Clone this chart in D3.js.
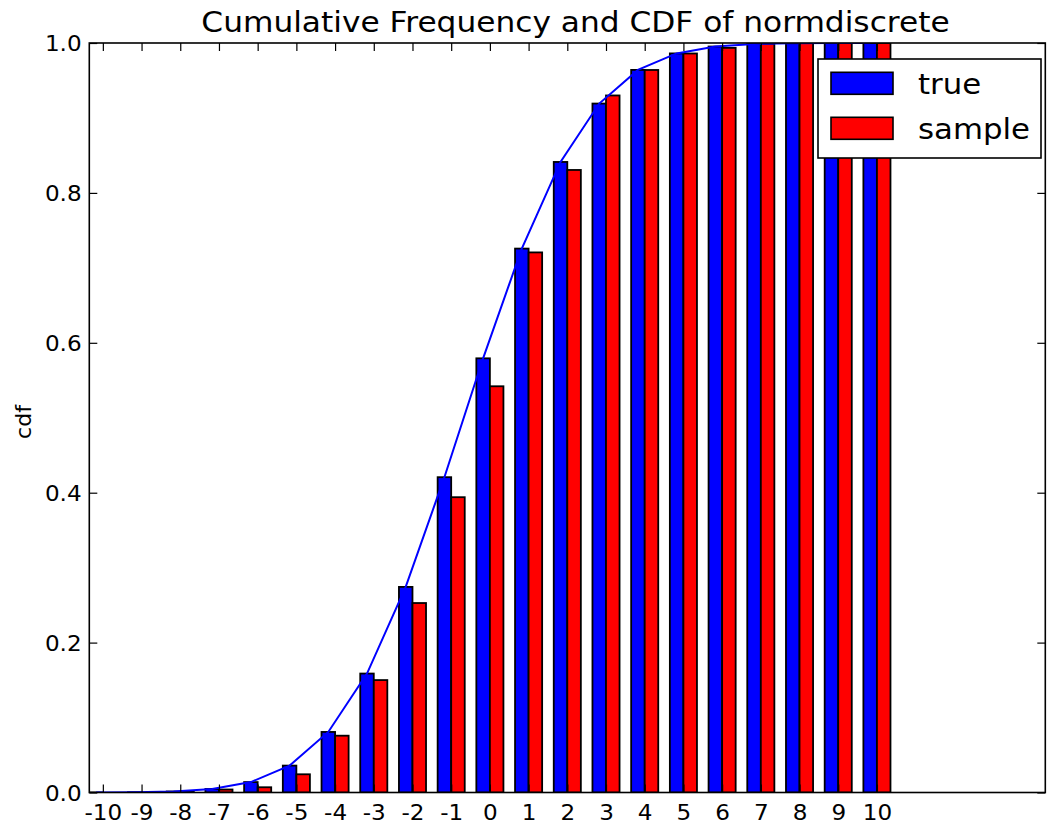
<!DOCTYPE html>
<html>
<head>
<meta charset="utf-8">
<script src="https://cdn.jsdelivr.net/npm/d3@7"></script>
<style>
  html, body { margin: 0; padding: 0; background: #fff; }
  svg { display: block; font-family: "DejaVu Sans", sans-serif; }
</style>
</head>
<body>
<svg id="chart" width="1047" height="825"></svg>
<script>
// ---- data ----
const xk = [-10,-9,-8,-7,-6,-5,-4,-3,-2,-1,0,1,2,3,4,5,6,7,8,9,10];
const trueCdf = [0.00007,0.00034,0.00135,0.0047,0.0139,0.0359,0.0808,0.1587,0.2743,0.4207,
                 0.5793,0.7257,0.8413,0.9192,0.9641,0.9861,0.9953,0.99865,0.99966,0.99993,1.0];
const sampleCdf = [0,0,0.001,0.004,0.007,0.0243,0.0758,0.150,0.2528,0.394,
                   0.542,0.7206,0.8306,0.930,0.964,0.986,0.9935,0.999,1.0,1.0,1.0];
const yTicks = [0,0.2,0.4,0.6,0.8,1.0];
const legendLabels = ["true","sample"];
const seriesColors = ["#0000ff","#ff0000"];
const titleText = "Cumulative Frequency and CDF of normdiscrete";
const yLabel = "cdf";

// ---- layout ----
const L = 89.3, R = 1045.3, T = 43, B = 792.5;
const W = 0.35;      // bar width in data units
const SX = 1.1;      // horizontal text stretch seen in the reference

const svg = d3.select("#chart");
const x = d3.scaleLinear().domain([-10.35, 14.35]).range([L, R]);
const y = d3.scaleLinear().domain([0, 1]).range([B, T]);

svg.append("clipPath").attr("id","clip").append("rect")
  .attr("x", L).attr("y", T).attr("width", R - L).attr("height", B - T);

const plot = svg.append("g").attr("clip-path","url(#clip)");

const rows = xk.map((k,i) => ({k, t: trueCdf[i], s: sampleCdf[i]}));

// blue (true) bars
plot.selectAll("rect.true").data(rows).enter().append("rect")
  .attr("class","true")
  .attr("x", d => x(d.k - W))
  .attr("width", d => x(d.k) - x(d.k - W))
  .attr("y", d => y(d.t))
  .attr("height", d => y(0) - y(d.t))
  .attr("fill", seriesColors[0])
  .attr("stroke", "#000").attr("stroke-width", 1.8);

// red (sample) bars
plot.selectAll("rect.sample").data(rows).enter().append("rect")
  .attr("class","sample")
  .attr("x", d => x(d.k))
  .attr("width", d => x(d.k + W) - x(d.k))
  .attr("y", d => y(d.s))
  .attr("height", d => y(0) - y(d.s))
  .attr("fill", seriesColors[1])
  .attr("stroke", "#000").attr("stroke-width", 1.8);

// cdf line
plot.append("path").datum(rows)
  .attr("fill","none").attr("stroke", seriesColors[0]).attr("stroke-width", 2)
  .attr("d", d3.line().x(d => x(d.k - W/2)).y(d => y(d.t)));

// ---- axes ----
const fontTick = 21;
const xAxisB = svg.append("g").attr("transform", `translate(0,${B})`)
  .call(d3.axisBottom(x).tickValues(xk).tickSize(-8).tickPadding(12.6).tickFormat(d => String(d)));
const xAxisT = svg.append("g").attr("transform", `translate(0,${T})`)
  .call(d3.axisTop(x).tickValues(xk).tickSize(-8).tickFormat(""));
const yAxisL = svg.append("g").attr("transform", `translate(${L},0)`)
  .call(d3.axisLeft(y).tickValues(yTicks).tickSize(-8).tickPadding(7).tickFormat(d => d.toFixed(1)));
const yAxisR = svg.append("g").attr("transform", `translate(${R},0)`)
  .call(d3.axisRight(y).tickValues(yTicks).tickSize(-8).tickFormat(""));

[xAxisB, xAxisT, yAxisL, yAxisR].forEach(g => {
  g.select(".domain").remove();
  g.selectAll(".tick line").attr("stroke","#000").attr("stroke-width",1.2);
  g.selectAll(".tick text")
    .attr("font-family","DejaVu Sans").attr("font-size", fontTick).attr("fill","#000")
    .attr("transform", `scale(${SX},1)`);
});
xAxisB.selectAll(".tick text").attr("dy", null).attr("y", 27.5);
yAxisL.selectAll(".tick text").attr("dy", "0.36em");

// frame
svg.append("rect").attr("x", L).attr("y", T).attr("width", R - L).attr("height", B - T)
  .attr("fill","none").attr("stroke","#000").attr("stroke-width",1.6);

// title
svg.append("text")
  .attr("transform", `translate(575.5,32) scale(${SX},1)`)
  .attr("text-anchor","middle").attr("font-size", 28.4).attr("fill","#000")
  .text(titleText);

// y label
svg.append("text")
  .attr("transform", `translate(31,422) rotate(-90)`)
  .attr("text-anchor","middle").attr("font-size", 22).attr("fill","#000")
  .text(yLabel);

// ---- legend ----
const lg = svg.append("g");
lg.append("rect").attr("x", 818).attr("y", 59).attr("width", 223).attr("height", 99)
  .attr("fill","#fff").attr("stroke","#000").attr("stroke-width",1.6);
legendLabels.forEach((lab, i) => {
  const cy = 83.3 + i * 45;
  lg.append("rect").attr("x", 831).attr("y", cy - 11).attr("width", 62).attr("height", 22)
    .attr("fill", seriesColors[i]).attr("stroke","#000").attr("stroke-width",1.6);
  lg.append("text")
    .attr("transform", `translate(918,${cy + 10.5}) scale(${SX},1)`)
    .attr("font-size", 28).attr("fill","#000").text(lab);
});
</script>
</body>
</html>
